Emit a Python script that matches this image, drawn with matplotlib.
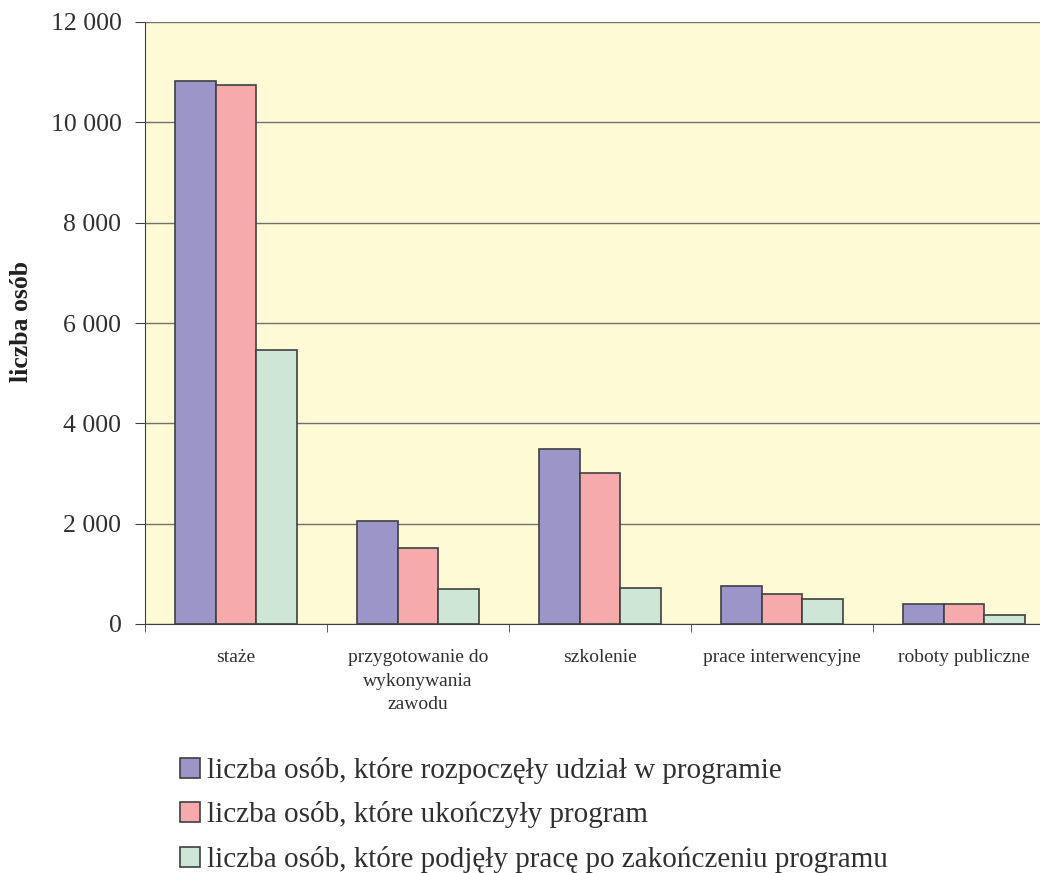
import numpy as np
import matplotlib
matplotlib.use("Agg")
import matplotlib.pyplot as plt
from matplotlib.patches import Patch
from matplotlib.ticker import FuncFormatter

plt.rcParams["font.family"] = ["Liberation Serif", "DejaVu Serif"]

# dane
categories = ["staże", "przygotowanie do\nwykonywania\nzawodu", "szkolenie",
              "prace interwencyjne", "roboty publiczne"]
started = [10830, 2060, 3490, 760, 390]
finished = [10750, 1515, 3010, 605, 390]
employed = [5460, 690, 725, 505, 180]
series_labels = [
    "liczba osób, które rozpoczęły udział w programie",
    "liczba osób, które ukończyły program",
    "liczba osób, które podjęły pracę po zakończeniu programu",
]
colors = ["#9C95C8", "#F7AAAC", "#CDE6D6"]

fig = plt.figure(figsize=(10.4, 8.73), dpi=100)
# obszar wykresu wychodzi nieco poza prawą krawędź obrazka
ax = fig.add_axes((145 / 1040, 1 - 624 / 873, 910 / 1040, 602 / 873))
ax.set_facecolor("#FFFAD6")

x = np.arange(len(categories))
w = 1 / 4.5
for i, (vals, col) in enumerate(zip([started, finished, employed], colors)):
    ax.bar(x + (i - 1) * w, vals, width=w, color=col, edgecolor="#404040",
           linewidth=1.2, zorder=3)

ax.set_xlim(-0.5, len(categories) - 0.5)
ax.set_ylim(0, 12000)
ax.set_yticks(np.arange(0, 12001, 2000))
ax.yaxis.set_major_formatter(FuncFormatter(lambda v, p: f"{int(v):,}".replace(",", " ")))
ax.grid(axis="y", color="#707070", linewidth=1.0, zorder=1)

ax.set_xticks(x)
ax.set_xticklabels(categories, fontsize=14, linespacing=1.5)
ax.set_xticks(np.arange(-0.5, len(categories)), minor=True)
ax.tick_params(axis="x", which="major", length=0, pad=18, colors="#303030")
ax.tick_params(axis="x", which="minor", length=6, color="#404040")
ax.tick_params(axis="y", length=7, pad=10, labelsize=18.5, color="#404040",
               labelcolor="#303030")

for side in ["top", "right"]:
    ax.spines[side].set_visible(False)
ax.spines["left"].set_color("#404040")
ax.spines["bottom"].set_color("#404040")

fig.text(22 / 1040, 1 - 322 / 873, "liczba osób", rotation=90, fontsize=18.5,
         fontweight="bold", ha="center", va="center", color="#202020")

handles = [Patch(facecolor=c, edgecolor="#404040", linewidth=1.2) for c in colors]
fig.legend(handles, series_labels, loc="upper left",
           bbox_to_anchor=(180 / 1040, 1 - 757 / 873), frameon=False,
           fontsize=21, handlelength=0.68, handleheight=0.68,
           handletextpad=0.25, labelspacing=0.6, borderpad=0, borderaxespad=0,
           labelcolor="#303030")

fig.savefig("out.png", dpi=100)
